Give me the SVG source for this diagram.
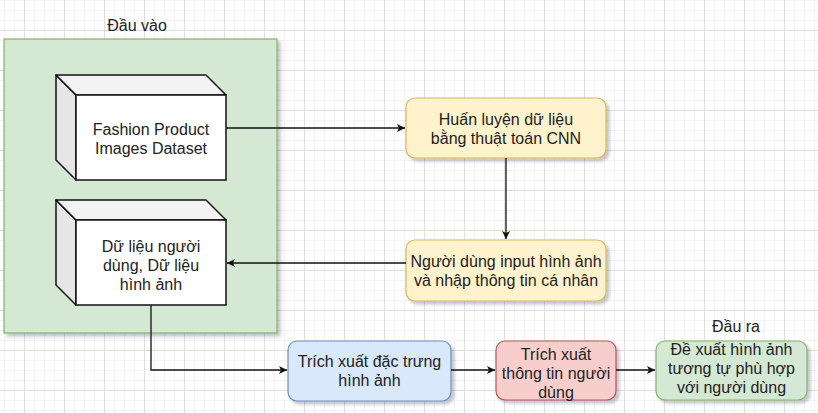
<svg xmlns="http://www.w3.org/2000/svg" width="818" height="413" viewBox="0 0 818 413">
<style>
text{font-family:"Liberation Sans",Arial,Helvetica,sans-serif;font-size:16px;fill:#222;text-anchor:middle}
.cube-front{fill:#fff;stroke:#111;stroke-width:1.5}
.cube-left{fill:#e6e6e6;stroke:#111;stroke-width:1.5;stroke-linejoin:round}
.cube-top{fill:#f3f3f3;stroke:#111;stroke-width:1.5;stroke-linejoin:round}
.yellow{fill:#fff2cc;stroke:#d6b656;stroke-width:1.2}
.blue{fill:#dae8fc;stroke:#6c8ebf;stroke-width:1.2}
.red{fill:#f8cecc;stroke:#b85450;stroke-width:1.2}
.green{fill:#d5e8d4;stroke:#82b366;stroke-width:1.2}
.conn{fill:none;stroke:#111;stroke-width:1.3}
</style>
<defs>
<pattern id="minor" width="10" height="10" patternUnits="userSpaceOnUse" x="4" y="0">
<rect x="0" y="0" width="1" height="10" fill="#f3f3f3"/>
<rect x="0" y="0" width="10" height="1" fill="#f3f3f3"/>
</pattern>
<pattern id="major" width="40" height="40" patternUnits="userSpaceOnUse" x="24" y="30">
<rect x="0" y="0" width="1" height="40" fill="#dedede"/>
<rect x="0" y="0" width="40" height="1" fill="#dedede"/>
</pattern>
<filter id="shadow" x="-10%" y="-10%" width="130%" height="130%">
<feDropShadow dx="3" dy="3" stdDeviation="1.5" flood-color="#404060" flood-opacity="0.3"/>
</filter>
<marker id="arrow" markerUnits="userSpaceOnUse" markerWidth="10" markerHeight="10" refX="8" refY="4" orient="auto">
<path d="M0,0 L8,4 L0,8 L2,4 Z" fill="#111"/>
</marker>
</defs>
<rect width="818" height="413" fill="#fff"/>
<rect width="818" height="413" fill="url(#minor)"/>
<rect width="818" height="413" fill="url(#major)"/>

<g id="input-container">
<rect x="4" y="39" width="273" height="294" class="green" filter="url(#shadow)"/>
<text x="137" y="31">Đầu vào</text>
</g>

<g id="cube-dataset">
<polygon points="56,75 76,95 76,180 56,160" class="cube-left"/>
<polygon points="56,75 206,75 226,95 76,95" class="cube-top"/>
<rect x="76" y="95" width="150" height="85" class="cube-front"/>
<text x="151" y="135">Fashion Product</text>
<text x="151" y="154">Images Dataset</text>
</g>

<g id="cube-userdata">
<polygon points="56,200 76,220 76,305 56,285" class="cube-left"/>
<polygon points="56,200 206,200 226,220 76,220" class="cube-top"/>
<rect x="76" y="220" width="150" height="85" class="cube-front"/>
<text x="151" y="252">Dữ liệu người</text>
<text x="151" y="271">dùng, Dữ liệu</text>
<text x="151" y="290">hình ảnh</text>
</g>

<g id="train">
<rect x="406" y="98" width="200" height="60" rx="9" class="yellow" filter="url(#shadow)"/>
<text x="506" y="125">Huấn luyện dữ liệu</text>
<text x="506" y="144">bằng thuật toán CNN</text>
</g>

<g id="user-input">
<rect x="406" y="240" width="200" height="61" rx="9" class="yellow" filter="url(#shadow)"/>
<text x="506" y="267">Người dùng input hình ảnh</text>
<text x="506" y="286">và nhập thông tin cá nhân</text>
</g>

<g id="extract-image">
<rect x="288" y="341" width="163" height="60" rx="9" class="blue" filter="url(#shadow)"/>
<text x="369.5" y="367">Trích xuất đặc trưng</text>
<text x="369.5" y="386">hình ảnh</text>
</g>

<g id="extract-user">
<rect x="496" y="341" width="120" height="59" rx="9" class="red" filter="url(#shadow)"/>
<text x="556" y="360">Trích xuất</text>
<text x="556" y="379">thông tin người</text>
<text x="556" y="398">dùng</text>
</g>

<g id="output">
<rect x="656" y="341" width="151" height="59" rx="9" class="green" filter="url(#shadow)"/>
<text x="736" y="332">Đầu ra</text>
<text x="731.5" y="355">Đề xuất hình ảnh</text>
<text x="731.5" y="374">tương tự phù hợp</text>
<text x="731.5" y="393">với người dùng</text>
</g>

<g id="connectors">
<path d="M226,128 H405" class="conn" marker-end="url(#arrow)"/>
<path d="M506,158 V239" class="conn" marker-end="url(#arrow)"/>
<path d="M406,263 H227" class="conn" marker-end="url(#arrow)"/>
<path d="M151,305 V370 H287" class="conn" marker-end="url(#arrow)"/>
<path d="M451,370 H495" class="conn" marker-end="url(#arrow)"/>
<path d="M616,370 H655" class="conn" marker-end="url(#arrow)"/>
</g>
</svg>
